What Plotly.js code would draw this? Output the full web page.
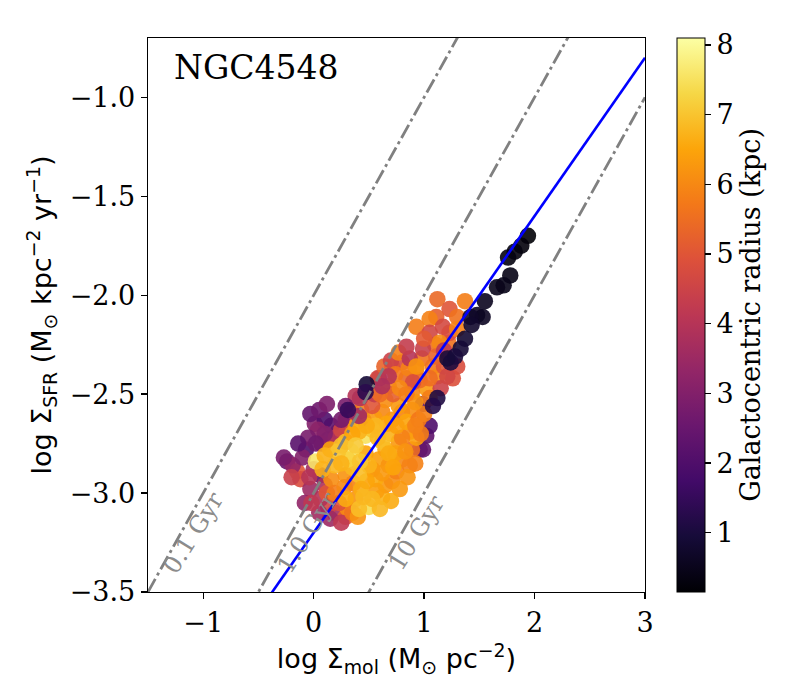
<!DOCTYPE html>
<html><head><meta charset="utf-8">
<script src="https://cdn.plot.ly/plotly-3.0.1.min.js"></script>
<style>html,body{margin:0;padding:0;background:#fff}#chart{width:800px;height:700px}</style>
</head><body><div id="chart"></div>
<script>
// log Sigma_mol (Msun pc^-2)
const logSigmaMol = [
-0.24,-0.15,-0.12,-0.19,-0.07,0.01,-0.03,-0.08,0.06,0.10,0.19,0.13,0.29,0.31,0.38,0.22,0.16,0.10,0.04,0.13,0.29,0.34,0.96,1.02,1.05,0.99,0.99,0.06,0.00,-0.05,0.07,-0.10,0.15,0.25,0.23,0.45,
0.05,-0.02,-0.20,-0.27,-0.14,-0.03,0.05,0.12,0.20,0.25,0.10,0.02,-0.04,0.12,0.35,
0.62,0.65,0.71,0.75,0.80,0.89,0.87,0.77,0.65,0.59,0.29,0.16,0.38,0.43,0.62,0.71,0.80,0.89,0.87,0.68,0.56,0.19,0.93,0.84,0.70,0.53,0.36,0.95,1.00,0.57,0.74,0.80,0.47,0.62,
0.85,0.78,0.92,0.97,0.40,0.55,0.66,0.75,0.92,0.68,0.83,0.15,0.35,0.48,0.62,0.72,0.28,
0.02,0.50,0.53,0.50,0.41,0.43,0.34,0.31,0.25,0.22,0.10,0.19,0.29,0.47,0.53,0.56,0.41,0.29,0.41,0.35,
0.70,0.60,0.48,0.58,0.38,0.42,0.25,0.08,0.45,
0.71,0.80,0.93,1.08,1.26,1.12,1.02,0.68,0.59,0.65,0.77,0.89,0.84,0.53,0.41,0.25,0.38,0.29,0.96,1.15,1.05,0.55,0.72,
0.42,0.58,0.64,0.70,0.74,0.86,0.90,0.98,1.05,1.10,1.18,0.78,0.92,0.84,0.60,1.22,
1.12,1.37,1.23,1.11,1.30,0.93,1.05,1.17,1.05,1.23,1.14,1.30,0.99,0.77,0.87,0.93,1.11,1.30,1.21,0.68,0.62,0.84,1.00,1.18,
1.94,1.88,1.82,1.76,1.78,1.72,1.66,1.55,1.48,1.53,1.42,1.43,1.37,1.33,1.28,1.24,1.21,1.12,1.08,0.48,0.47,0.31
];
// log Sigma_SFR (Msun kpc^-2 yr^-1)
const logSigmaSFR = [
-2.84,-2.89,-2.93,-2.86,-2.78,-2.65,-2.98,-3.05,-2.91,-2.96,-3.10,-3.07,-3.12,-3.08,-3.03,-2.69,-2.66,-2.63,-2.68,-2.73,-2.63,-2.59,-2.78,-2.71,-2.66,-2.55,-2.78,-3.03,-2.88,-2.72,-2.75,-2.82,-3.13,-3.15,-3.05,-2.63,
-3.10,-3.05,-2.92,-2.82,-2.75,-2.60,-2.58,-2.55,-2.72,-2.68,-2.70,-2.75,-2.92,-3.00,-3.10,
-3.02,-2.96,-2.94,-2.89,-2.83,-2.78,-2.69,-2.74,-2.78,-2.83,-2.91,-2.93,-2.66,-2.58,-2.59,-2.63,-2.59,-2.58,-2.86,-2.86,-2.93,-3.00,-2.72,-2.64,-2.70,-2.88,-2.95,-2.63,-2.60,-2.99,-2.80,-2.72,-2.80,-2.74,
-2.92,-2.98,-2.85,-2.70,-3.12,-2.62,-2.65,-2.66,-2.66,-2.80,-2.79,-2.78,-2.87,-2.94,-2.90,-2.87,-2.97,
-2.84,-3.07,-3.03,-2.86,-2.91,-2.98,-2.79,-2.83,-2.76,-2.79,-2.81,-2.86,-2.74,-2.71,-2.68,-2.66,-2.69,-3.03,-3.08,-2.70,
-3.04,-3.08,-2.66,-2.72,-2.76,-2.84,-2.85,-2.88,-3.02,
-2.36,-2.34,-2.37,-2.36,-2.42,-2.41,-2.47,-2.46,-2.42,-2.53,-2.56,-2.49,-2.42,-2.56,-2.61,-2.63,-2.51,-2.56,-2.43,-2.47,-2.52,-2.50,-2.50,
-2.52,-2.42,-2.36,-2.33,-2.40,-2.37,-2.44,-2.32,-2.42,-2.25,-2.36,-2.47,-2.54,-2.50,-2.50,-2.24,
-2.02,-2.03,-2.07,-2.11,-2.11,-2.16,-2.12,-2.16,-2.19,-2.19,-2.24,-2.17,-2.27,-2.29,-2.32,-2.36,-2.31,-2.36,-2.41,-2.41,-2.46,-2.26,-2.22,-2.28,
-1.70,-1.75,-1.78,-1.81,-1.90,-1.95,-1.96,-2.03,-2.10,-2.11,-2.11,-2.15,-2.22,-2.27,-2.31,-2.34,-2.32,-2.52,-2.56,-2.45,-2.49,-2.58
];
// Galactocentric radius (kpc)
const radiusKpc = [
2.5,5.0,4.8,3.3,2.0,3.0,3.5,3.3,2.2,3.8,3.6,4.6,5.2,6.0,6.2,3.8,2.3,2.0,3.2,2.5,4.5,3.8,2.5,2.3,2.0,2.2,2.4,3.9,3.6,2.8,3.3,3.0,3.5,4.2,4.9,4.6,
3.6,4.2,4.4,2.8,2.2,2.4,2.6,2.9,4.0,4.6,3.0,2.6,4.0,5.0,5.6,
6.7,6.3,6.1,5.9,6.0,5.5,6.0,6.3,6.6,6.4,6.2,6.1,6.4,5.8,6.0,6.2,5.9,6.1,5.9,6.2,6.6,5.8,6.4,6.5,6.7,6.3,5.9,5.7,5.9,6.4,6.4,5.9,6.5,6.9,
6.2,6.3,5.9,5.8,6.2,6.3,6.5,6.4,5.9,6.6,6.2,6.5,6.8,6.5,6.3,6.5,6.0,
7.6,7.4,6.8,6.7,6.9,6.6,7.6,7.2,6.9,7.0,6.7,6.8,6.9,7.5,7.0,6.8,6.7,6.6,6.9,6.5,
6.6,6.8,6.6,6.8,7.1,7.0,6.7,6.7,6.8,
5.6,4.8,6.0,5.7,4.9,6.0,6.3,5.9,3.7,6.1,6.3,6.0,5.4,5.0,3.6,2.7,4.0,2.8,5.5,4.5,5.8,4.3,5.2,
3.9,4.7,5.3,4.5,5.7,5.9,4.8,5.6,5.5,5.5,5.0,6.0,6.2,5.8,5.5,5.6,
5.4,5.8,5.0,5.2,5.6,5.8,5.9,4.7,4.6,4.8,6.0,5.9,4.4,5.9,4.0,6.2,5.3,4.8,4.6,4.0,3.8,4.3,5.1,4.2,
0.2,0.25,0.3,0.35,0.4,0.45,0.5,0.55,0.6,0.6,0.7,0.75,0.85,0.9,1.0,1.05,0.95,1.1,1.2,0.9,1.3,1.5
];
// depletion times (Gyr) and their labels
const depletionGyr = [0.1, 1.0, 10];
const depletionLabels = ["0.1 Gyr", "1.0 Gyr", "10 Gyr"];
// best-fit relation
const fitSlope = 0.80;
const fitIntercept = -3.20;
const xRange = [-1.5, 3];

const inferno = [
 [0.0,'#000004'],[0.1,'#160b39'],[0.2,'#420a68'],[0.3,'#6a176e'],[0.4,'#932667'],
 [0.5,'#bc3754'],[0.6,'#dd513a'],[0.7,'#f37819'],[0.8,'#fca50a'],[0.9,'#f6d746'],[1.0,'#fcffa4']
];

const traces = [];
traces.push({
  type:'scatter', mode:'markers', x: logSigmaMol, y: logSigmaSFR,
  marker:{size:16.5, color: radiusKpc, colorscale: inferno, cmin:0.15, cmax:8.1, opacity:0.9,
    line:{width:0},
    colorbar:{thickness:28, len:1, lenmode:'fraction', x:1.064, xanchor:'left', xpad:0, ypad:0, y:0.5, yanchor:'middle',
      outlinecolor:'#000', outlinewidth:1, ticks:'outside', ticklen:6, tickwidth:1.2, tickcolor:'#000',
      tickvals:[1,2,3,4,5,6,7,8],
      tickfont:{family:'DejaVu Serif', size:27, color:'#000'},
      title:{text:''}}
  },
  hoverinfo:'skip', showlegend:false
});
depletionGyr.forEach(t => {
  const off = -3 - Math.log10(t);
  traces.push({type:'scatter', mode:'lines', x: xRange, y: xRange.map(v => v + off),
    line:{color:'#808080', width:2.8, dash:'15px,4px,3px,4px'}, hoverinfo:'skip', showlegend:false});
});
traces.push({type:'scatter', mode:'lines', x: xRange, y: xRange.map(v => fitIntercept + fitSlope*v),
  line:{color:'#0000ff', width:2.6}, hoverinfo:'skip', showlegend:false});

const labelX = [-1.09, -0.06, 0.93];
const annotations = depletionLabels.map((s,i) => ({
  text:s, x:labelX[i], y:-3.2, xref:'x', yref:'y', showarrow:false, textangle:-58,
  font:{family:'DejaVu Serif', size:24, color:'#8c8c8c'}
}));
annotations.push({text:'NGC4548', xref:'paper', yref:'paper', x:0.048, y:0.946, xanchor:'left', yanchor:'middle',
  showarrow:false, font:{family:'DejaVu Serif', size:33, color:'#000'}});
annotations.push({text:'Galactocentric radius (kpc)', xref:'paper', yref:'paper', x:1.211, y:0.5,
  xanchor:'center', yanchor:'middle', textangle:-90, showarrow:false,
  font:{family:'DejaVu Serif', size:27, color:'#000'}});

const axisCommon = {showline:true, mirror:true, linecolor:'#000', linewidth:1.3, ticks:'outside', ticklen:6,
  tickwidth:1.3, tickcolor:'#000', showgrid:false, zeroline:false,
  tickfont:{family:'DejaVu Serif', size:27, color:'#000'}};

const layout = {
  width:800, height:700, paper_bgcolor:'#fff', plot_bgcolor:'#fff',
  margin:{l:148, r:155, t:38, b:108},
  xaxis: Object.assign({}, axisCommon, {range:xRange, tickvals:[-1,0,1,2,3],
    title:{text:'log Σ<sub>mol</sub> (M<sub>⊙</sub> pc<sup>−2</sup>)', font:{family:'DejaVu Sans', size:27, color:'#000'}, standoff:12}}),
  yaxis: Object.assign({}, axisCommon, {range:[-3.5,-0.7], tickvals:[-3.5,-3,-2.5,-2,-1.5,-1], tickformat:'.1f',
    title:{text:'log Σ<sub>SFR</sub> (M<sub>⊙</sub> kpc<sup>−2</sup> yr<sup>−1</sup>)', font:{family:'DejaVu Sans', size:27, color:'#000'}, standoff:10}}),
  annotations: annotations,
  showlegend:false
};
Plotly.newPlot('chart', traces, layout, {displayModeBar:false, staticPlot:true});
</script></body></html>
